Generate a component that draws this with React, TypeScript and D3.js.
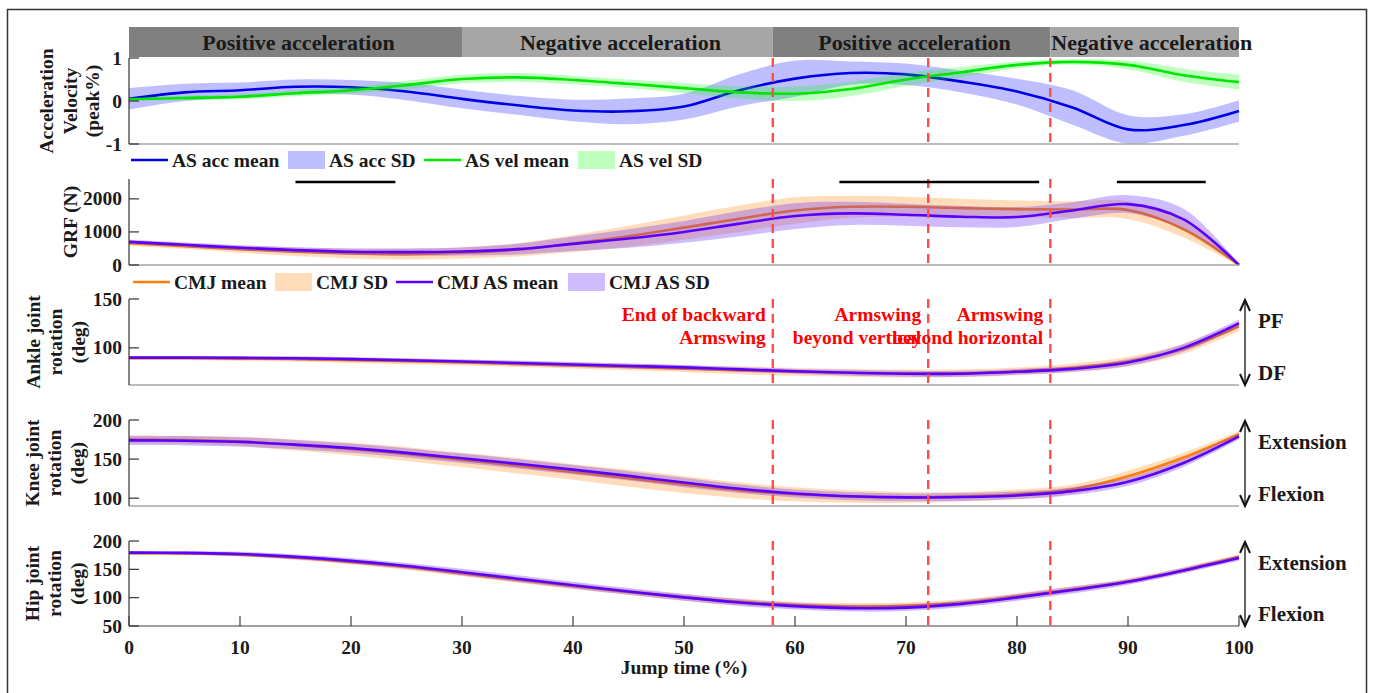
import React from 'react';
import * as d3 from 'd3';

// jump time grid (%)
const pct = [0, 5, 10, 15, 20, 25, 30, 35, 40, 45, 50, 55, 60, 65, 70, 75, 80, 85, 90, 95, 100];
const xTicks = [0, 10, 20, 30, 40, 50, 60, 70, 80, 90, 100];

// acceleration / velocity (peak %)
const accMean = [0.05, 0.2, 0.25, 0.33, 0.32, 0.22, 0.05, -0.1, -0.22, -0.24, -0.13, 0.25, 0.52, 0.65, 0.62, 0.45, 0.22, -0.15, -0.66, -0.56, -0.23];
const accSd = [0.25, 0.2, 0.18, 0.17, 0.17, 0.2, 0.22, 0.22, 0.25, 0.3, 0.3, 0.37, 0.42, 0.27, 0.25, 0.25, 0.3, 0.4, 0.33, 0.25, 0.25];
const velMean = [0.04, 0.07, 0.1, 0.18, 0.25, 0.37, 0.51, 0.55, 0.49, 0.4, 0.3, 0.2, 0.17, 0.28, 0.5, 0.67, 0.84, 0.91, 0.84, 0.6, 0.44];
const velSd = [0.03, 0.05, 0.06, 0.07, 0.08, 0.1, 0.1, 0.1, 0.1, 0.1, 0.12, 0.14, 0.17, 0.17, 0.15, 0.12, 0.08, 0.06, 0.1, 0.15, 0.17];

// GRF (N)
const grfCmjMean = [660, 570, 480, 400, 350, 330, 370, 460, 650, 870, 1130, 1400, 1650, 1760, 1760, 1720, 1690, 1680, 1660, 1080, 0];
const grfCmjSd = [80, 90, 110, 130, 150, 160, 170, 200, 260, 320, 370, 400, 400, 330, 300, 280, 260, 250, 270, 250, 30];
const grfAsMean = [700, 610, 520, 450, 400, 390, 410, 480, 640, 800, 1000, 1250, 1480, 1560, 1520, 1460, 1450, 1650, 1840, 1380, 0];
const grfAsSd = [60, 70, 80, 90, 100, 110, 120, 160, 220, 280, 330, 380, 390, 350, 330, 320, 300, 250, 270, 320, 30];

// ankle (deg)
const ankleCmjMean = [89.5, 89.5, 89, 88.5, 87.5, 86.3, 85, 83.5, 82, 80.5, 78.8, 77, 75.5, 74.5, 73.8, 74, 76, 79.5, 86, 99, 122];
const ankleCmjSd = [2, 2, 2.5, 2.5, 3, 3, 3, 3, 3, 3.5, 3.5, 4, 4, 4, 4, 4, 4, 4.5, 5, 5, 5];
const ankleAsMean = [90, 90, 89.8, 89.3, 88.5, 87.3, 86, 84.5, 83, 81.5, 80, 78, 76, 74.5, 73.5, 73.5, 75.5, 78.5, 85, 100, 125];
const ankleAsSd = [1.5, 1.5, 1.5, 2, 2, 2, 2, 2.5, 2.5, 2.5, 2.5, 2.5, 2.5, 3, 3, 3, 3, 3, 3.5, 4, 4];

// knee (deg)
const kneeCmjMean = [175, 174.5, 172.5, 168, 163, 156.5, 149, 141.5, 133.5, 125.5, 117.5, 110, 105, 102, 101, 102, 105, 111.5, 128, 152, 182];
const kneeCmjSd = [5, 5, 6, 7, 8, 9, 9, 10, 10, 11, 11, 10, 9, 8, 7, 6, 6, 6, 7, 6, 4];
const kneeAsMean = [174, 173.5, 172, 168.5, 164, 158, 151, 144, 136.5, 128.5, 120, 112, 106, 102.5, 101, 101.5, 103.5, 109, 121, 145, 179];
const kneeAsSd = [6, 6, 6, 6, 6, 6, 6, 6, 6, 6, 6, 5.5, 5, 5, 5, 5, 5, 5, 5, 5, 4];

// hip (deg)
const hipCmjMean = [178.5, 178, 176, 170.5, 163, 154, 143, 131.5, 120.5, 110, 100.5, 92.5, 87, 84.5, 85.5, 91, 102, 114.5, 128.5, 148.5, 172];
const hipCmjSd = [3, 3, 3, 4, 4, 5, 5, 5, 5, 5, 6, 6, 6, 6, 6, 6, 6, 5, 5, 5, 4];
const hipAsMean = [179.5, 179, 177, 172, 165, 156, 145, 133.5, 122, 111, 100.5, 91.5, 85, 81.5, 82.5, 89, 100.5, 113.5, 128, 148, 170];
const hipAsSd = [3, 3, 4, 4, 5, 5, 6, 6, 6, 6, 6, 6, 6, 6, 6, 6, 6, 6, 5, 5, 5];

// phases, events, significance
const phaseBounds = [0, 30, 58, 83, 100];
const phaseLabels = ['Positive acceleration', 'Negative acceleration', 'Positive acceleration', 'Negative acceleration'];
const eventPcts = [58, 72, 83];
const eventLabels = [['End of backward', 'Armswing'], ['Armswing', 'beyond vertical'], ['Armswing', 'beyond horizontal']];
const sigStarts = [15, 64, 89];
const sigEnds = [24, 82, 97];

const FONT = '"Liberation Serif", "Times New Roman", serif';
const INK = '#1a1a1a';
const BLUE = '#0000e6';
const GREEN = '#00e600';
const ORANGE = '#ff8000';
const PURPLE = '#5a00ff';

const x = d3.scaleLinear().domain([0, 100]).range([129, 1239]);

const panels = [
  {
    top: 58, bottom: 144, domain: [-1, 1], ticks: [-1, 0, 1],
    label: ['Acceleration', 'Velocity', '(peak%)'], labelX: [46, 70, 92],
    series: [
      { mean: accMean, sd: accSd, color: BLUE, fill: '#0000ff', op: 0.25 },
      { mean: velMean, sd: velSd, color: GREEN, fill: '#00ff00', op: 0.25 },
    ],
  },
  {
    top: 179, bottom: 265, domain: [0, 2600], ticks: [0, 1000, 2000],
    label: ['GRF (N)'], labelX: [70],
    series: [
      { mean: grfCmjMean, sd: grfCmjSd, color: ORANGE, fill: '#ff8000', op: 0.27 },
      { mean: grfAsMean, sd: grfAsSd, color: PURPLE, fill: '#6a30ff', op: 0.32 },
    ],
  },
  {
    top: 299, bottom: 385, domain: [62, 150], ticks: [100, 150],
    label: ['Ankle joint', 'rotation', '(deg)'], labelX: [33, 55, 78],
    side: ['PF', 'DF'],
    series: [
      { mean: ankleCmjMean, sd: ankleCmjSd, color: ORANGE, fill: '#ff8000', op: 0.27 },
      { mean: ankleAsMean, sd: ankleAsSd, color: PURPLE, fill: '#6a30ff', op: 0.32 },
    ],
  },
  {
    top: 420, bottom: 506, domain: [90, 200], ticks: [100, 150, 200],
    label: ['Knee joint', 'rotation', '(deg)'], labelX: [32, 54, 77],
    side: ['Extension', 'Flexion'],
    series: [
      { mean: kneeCmjMean, sd: kneeCmjSd, color: ORANGE, fill: '#ff8000', op: 0.27 },
      { mean: kneeAsMean, sd: kneeAsSd, color: PURPLE, fill: '#6a30ff', op: 0.32 },
    ],
  },
  {
    top: 541, bottom: 626, domain: [50, 200], ticks: [50, 100, 150, 200],
    label: ['Hip joint', 'rotation', '(deg)'], labelX: [32, 54, 77],
    side: ['Extension', 'Flexion'],
    series: [
      { mean: hipCmjMean, sd: hipCmjSd, color: ORANGE, fill: '#ff8000', op: 0.27 },
      { mean: hipAsMean, sd: hipAsSd, color: PURPLE, fill: '#6a30ff', op: 0.32 },
    ],
  },
];

const legends = [
  {
    y: 160,
    items: [
      { kind: 'line', x: 131, color: BLUE, text: 'AS acc mean' },
      { kind: 'patch', x: 288, color: '#0000ff', op: 0.25, text: 'AS acc SD' },
      { kind: 'line', x: 424, color: GREEN, text: 'AS vel mean' },
      { kind: 'patch', x: 578, color: '#00ff00', op: 0.25, text: 'AS vel SD' },
    ],
  },
  {
    y: 282,
    items: [
      { kind: 'line', x: 133, color: ORANGE, text: 'CMJ mean' },
      { kind: 'patch', x: 275, color: '#ff8000', op: 0.27, text: 'CMJ SD' },
      { kind: 'line', x: 396, color: PURPLE, text: 'CMJ AS mean' },
      { kind: 'patch', x: 568, color: '#6a30ff', op: 0.32, text: 'CMJ AS SD' },
    ],
  },
];

function Panel({ p, last }: { p: any; last: boolean }) {
  const y = d3.scaleLinear().domain(p.domain).range([p.bottom, p.top]);
  const curve = d3.curveCatmullRom.alpha(0.5);
  const line = d3.line<number>().x((_, i) => x(pct[i])).y((d) => y(d)).curve(curve);
  const band = (s: any) =>
    d3.area<number>()
      .x((_, i) => x(pct[i]))
      .y0((d, i) => y(d - s.sd[i]))
      .y1((d, i) => y(d + s.sd[i]))
      .curve(curve)(s.mean) as string;
  const mid = (p.top + p.bottom) / 2;
  return (
    <g>
      {p.series.map((s: any, i: number) => (
        <g key={i}>
          <path d={band(s)} fill={s.fill} fillOpacity={s.op} stroke="none" />
          <path d={line(s.mean) as string} fill="none" stroke={s.color} strokeWidth={2.6} />
        </g>
      ))}
      {eventPcts.map((e) => (
        <line key={e} x1={x(e)} x2={x(e)} y1={p.top} y2={p.bottom} stroke="#ff4d4d" strokeWidth={2.4} strokeDasharray="9 6" />
      ))}
      {/* axes */}
      <line x1={x(0)} x2={x(100)} y1={p.bottom} y2={p.bottom} stroke={last ? '#404040' : '#a6a6a6'} strokeWidth={last ? 1.2 : 1.5} />
      <line x1={x(0)} x2={x(0)} y1={p.top} y2={p.bottom} stroke="#333" strokeWidth={1.2} />
      {p.ticks.map((t: number) => (
        <g key={t}>
          <line x1={x(0)} x2={x(0) + 10} y1={y(t)} y2={y(t)} stroke="#333" strokeWidth={1.2} />
          <text x={122} y={y(t)} textAnchor="end" dominantBaseline="central" fontSize={19.5} fontWeight="bold" fill={INK}>
            {t}
          </text>
        </g>
      ))}
      {last &&
        xTicks.map((t) => (
          <g key={t}>
            <line x1={x(t)} x2={x(t)} y1={p.bottom} y2={p.bottom - 10} stroke="#404040" strokeWidth={1.2} />
            <text x={x(t)} y={p.bottom + 28} textAnchor="middle" fontSize={19.5} fontWeight="bold" fill={INK}>
              {t}
            </text>
          </g>
        ))}
      {p.label.map((l: string, i: number) => (
        <text key={l} transform={`translate(${p.labelX[i]},${mid}) rotate(-90)`} textAnchor="middle" dominantBaseline="central" fontSize={19.5} fontWeight="bold" fill={INK}>
          {l}
        </text>
      ))}
      {p.side && (
        <g>
          <line x1={1245} x2={1245} y1={p.top + 2} y2={p.bottom} stroke="#111" strokeWidth={1.3} />
          <path d={`M1240,${p.top + 12} L1245,${p.top + 1} L1250,${p.top + 12}`} fill="none" stroke="#111" strokeWidth={2} />
          <path d={`M1240,${p.bottom - 11} L1245,${p.bottom} L1250,${p.bottom - 11}`} fill="none" stroke="#111" strokeWidth={2} />
          <text x={1258} y={p.top + 29} fontSize={21} fontWeight="bold" fill={INK}>{p.side[0]}</text>
          <text x={1258} y={p.bottom - 5} fontSize={21} fontWeight="bold" fill={INK}>{p.side[1]}</text>
        </g>
      )}
    </g>
  );
}

export default function App() {
  return (
    <svg width={1375} height={693} viewBox="0 0 1375 693" style={{ position: 'absolute', left: 0, top: 0, background: '#fff' }} fontFamily={FONT}>
      <rect x={0} y={0} width={1375} height={693} fill="#fff" />
      <rect x={7.5} y={9.5} width={1359} height={720} fill="none" stroke="#333" strokeWidth={1.5} />

      {/* phase bar */}
      {phaseLabels.map((l, i) => {
        const a = x(phaseBounds[i]);
        const b = x(phaseBounds[i + 1]);
        const lastSeg = i === phaseLabels.length - 1;
        return (
          <g key={i}>
            <rect x={a} y={27} width={b - a} height={30} fill={i % 2 === 0 ? '#808080' : '#a6a6a6'} />
            <text x={lastSeg ? a + 1 : (a + b) / 2 + 3} y={50} textAnchor={lastSeg ? 'start' : 'middle'} fontSize={22} fontWeight="bold" fill={INK}>
              {l}
            </text>
          </g>
        );
      })}

      {panels.map((p, i) => (
        <Panel key={i} p={p} last={i === panels.length - 1} />
      ))}

      {/* significance bars */}
      {sigStarts.map((s, i) => (
        <line key={i} x1={x(s)} x2={x(sigEnds[i])} y1={182} y2={182} stroke="#000" strokeWidth={2.6} />
      ))}

      {/* legends */}
      {legends.map((lg, j) => (
        <g key={j}>
          {lg.items.map((it: any) => (
            <g key={it.text}>
              {it.kind === 'line' ? (
                <line x1={it.x} x2={it.x + 37} y1={lg.y} y2={lg.y} stroke={it.color} strokeWidth={2.6} />
              ) : (
                <rect x={it.x} y={lg.y - 9} width={37} height={18} fill={it.color} fillOpacity={it.op} />
              )}
              <text x={it.x + 41} y={lg.y} dominantBaseline="central" fontSize={19.5} fontWeight="bold" fill={INK}>
                {it.text}
              </text>
            </g>
          ))}
        </g>
      ))}

      {/* event annotations (the last two overlap in the original figure too) */}
      {eventPcts.map((e, i) => (
        <text key={e} x={x(e) - 7} y={321} textAnchor="end" fontSize={19.5} fontWeight="bold" fill="#ff0000">
          <tspan x={x(e) - 7} dy={0}>{eventLabels[i][0]}</tspan>
          <tspan x={x(e) - 7} dy={23}>{eventLabels[i][1]}</tspan>
        </text>
      ))}

      <text x={684} y={674} textAnchor="middle" fontSize={19.5} fontWeight="bold" fill={INK}>
        Jump time (%)
      </text>
    </svg>
  );
}
